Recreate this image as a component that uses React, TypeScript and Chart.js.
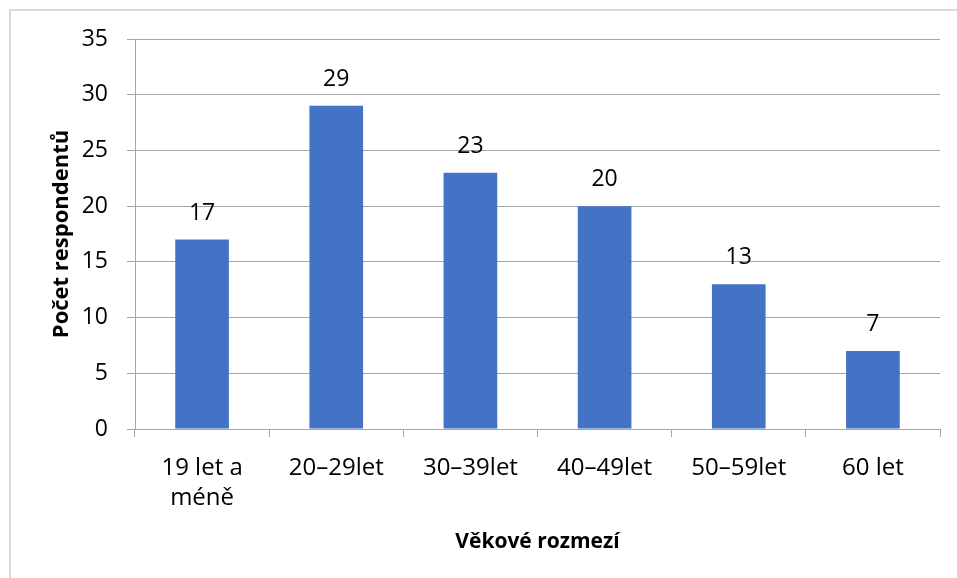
import React, { useEffect, useRef } from "react";
import { Chart, registerables } from "chart.js";

Chart.register(...registerables);

const categories: (string | string[])[] = [
  ["19 let a", "méně"],
  "20–29let",
  "30–39let",
  "40–49let",
  "50–59let",
  "60 let",
];
const respondents: number[] = [17, 29, 23, 20, 13, 7];
const yTitle = "Počet respondentů";
const xTitle = "Věkové rozmezí";

const FONT = "'Open Sans', 'Noto Sans', sans-serif";

const dataLabels = {
  id: "dataLabels",
  afterDatasetsDraw(chart: any) {
    const ctx = chart.ctx;
    const meta = chart.getDatasetMeta(0);
    const ds = chart.data.datasets[0];
    ctx.save();
    ctx.font = `23px ${FONT}`;
    ctx.fillStyle = "#000";
    ctx.textAlign = "center";
    ctx.textBaseline = "alphabetic";
    meta.data.forEach((bar: any, i: number) => {
      ctx.fillText(String(ds.data[i]), bar.x, bar.y - 20);
    });
    ctx.restore();
  },
};

const frame = {
  id: "frame",
  beforeDraw(chart: any) {
    const ctx = chart.ctx;
    ctx.save();
    ctx.fillStyle = "#fff";
    ctx.fillRect(0, 0, chart.width, chart.height);
    ctx.strokeStyle = "#d9d9d9";
    ctx.lineWidth = 2;
    ctx.beginPath();
    ctx.moveTo(10, chart.height);
    ctx.lineTo(10, 10);
    ctx.lineTo(chart.width, 10);
    ctx.stroke();
    ctx.restore();
  },
};

export default function App() {
  const ref = useRef<HTMLCanvasElement | null>(null);
  useEffect(() => {
    if (!ref.current) return;
    const chart = new Chart(ref.current, {
      type: "bar",
      data: {
        labels: categories,
        datasets: [
          {
            data: respondents,
            backgroundColor: "#4472C4",
            barPercentage: 0.4,
            categoryPercentage: 1,
          },
        ],
      },
      options: {
        animation: false,
        responsive: false,
        devicePixelRatio: 1,
        layout: { padding: { left: 10, right: 17, top: 39, bottom: 0 } },
        plugins: { legend: { display: false }, tooltip: { enabled: false } },
        scales: {
          x: {
            grid: {
              offset: true,
              drawOnChartArea: false,
              drawTicks: true,
              tickLength: 8,
              color: "#a6a6a6",
            },
            border: { color: "#a6a6a6", width: 1 },
            ticks: {
              color: "#000",
              font: { family: FONT, size: 24, lineHeight: 1.25 },
              padding: 16,
              maxRotation: 0,
              autoSkip: false,
            },
            title: {
              display: true,
              text: xTitle,
              color: "#000",
              font: { family: FONT, size: 21, weight: "bold" },
              padding: { top: 0, bottom: 23 },
            },
            afterFit(scale: any) {
              scale.height = 149;
            },
          },
          y: {
            min: 0,
            max: 35,
            ticks: {
              stepSize: 5,
              color: "#000",
              font: { family: FONT, size: 23 },
              padding: 19,
            },
            grid: {
              color: "#a6a6a6",
              tickLength: 8,
              drawTicks: true,
            },
            border: { color: "#a6a6a6", width: 1 },
            title: {
              display: true,
              text: yTitle,
              color: "#000",
              font: { family: FONT, size: 22, weight: "bold" },
              padding: { top: 39, bottom: 0 },
            },
            afterFit(scale: any) {
              scale.width = 125;
            },
          },
        },
      },
      plugins: [frame, dataLabels],
    });
    return () => chart.destroy();
  }, []);
  return (
    <div style={{ position: "fixed", left: 0, top: 0, width: 957, height: 578 }}>
      <canvas ref={ref} width={957} height={578} />
    </div>
  );
}
